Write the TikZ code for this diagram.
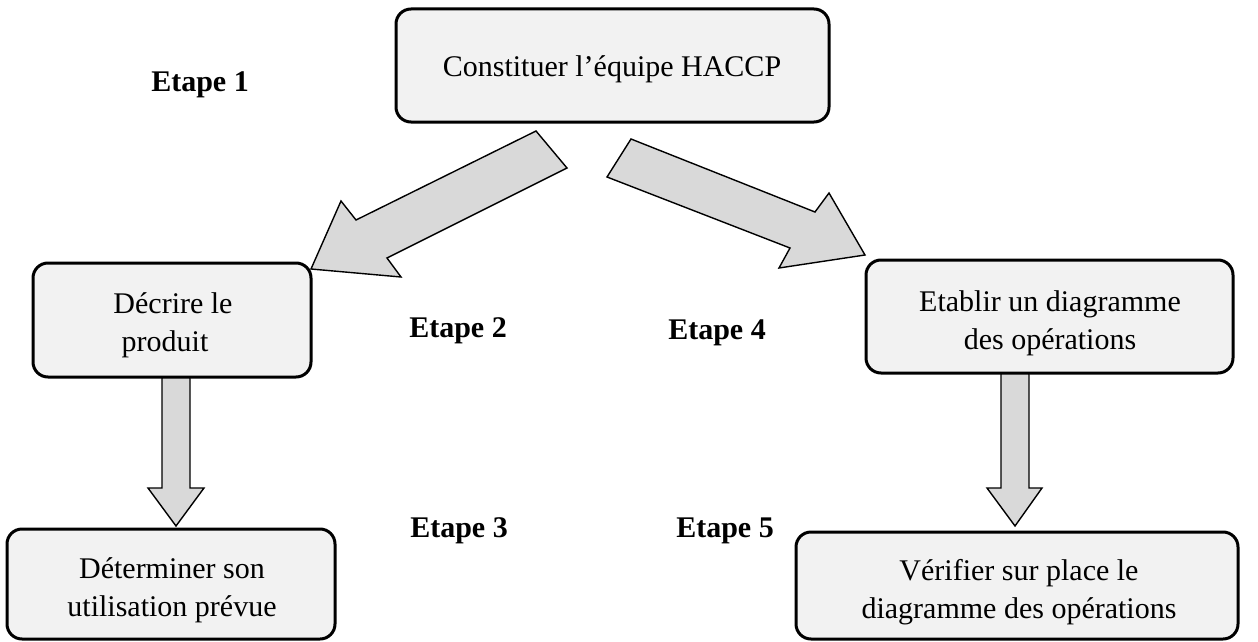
\documentclass[tikz,border=0pt]{standalone}
\usepackage{fontspec}
\setmainfont{Liberation Serif}
% fixed line height/depth so that text blocks can be placed by their first baseline
\newcommand{\hiStrut}{\rule{0pt}{22pt}}
\begin{document}
\begin{tikzpicture}[x=1pt,y=-1pt,
  stepbox/.style={draw=black, line width=3pt, rounded corners=15pt, fill=boxgray,
    inner sep=0pt},
  boxtext/.style={anchor=north, align=center, inner sep=0pt,
    font=\fontsize{30}{38.5}\selectfont},
  blockarrow/.style={draw=black, line width=1.4pt, fill=arrowgray, line join=miter},
  steplabel/.style={anchor=base, inner sep=0pt,
    font=\fontsize{30}{36}\selectfont\bfseries}]
\definecolor{boxgray}{HTML}{F2F2F2}
\definecolor{arrowgray}{HTML}{D9D9D9}
\useasboundingbox (0,0) rectangle (1258,642);

% step boxes
\node[stepbox, minimum width=433pt, minimum height=113pt] (equipe) at (612.5,65.5) {};
\node[stepbox, minimum width=278pt, minimum height=114pt] (produit) at (172,320) {};
\node[stepbox, minimum width=367pt, minimum height=113pt] (diagramme) at (1049.5,316.5) {};
\node[stepbox, minimum width=328pt, minimum height=110pt] (usage) at (171,584) {};
\node[stepbox, minimum width=442pt, minimum height=107pt] (verif) at (1017,585.5) {};

% box texts (placed 22pt above the first baseline)
\node[boxtext] (equipe-txt) at (612,54) {\hiStrut Constituer l’équipe HACCP};
\node[boxtext] (produit-txt) at (173,291) {\hiStrut Décrire le\\produit\hspace*{16pt}};
\node[boxtext] (diagramme-txt) at (1050,289) {\hiStrut Etablir un diagramme\\des opérations};
\node[boxtext] (usage-txt) at (172,556) {\hiStrut Déterminer son\\utilisation prévue};
\node[boxtext] (verif-txt) at (1019,558) {\hiStrut Vérifier sur place le\\diagramme des opérations};

% step labels (baseline positions)
\node[steplabel] (e1) at (200,92) {Etape 1};
\node[steplabel] (e2) at (458,337) {Etape 2};
\node[steplabel] (e3) at (459,537) {Etape 3};
\node[steplabel] (e4) at (717,339) {Etape 4};
\node[steplabel] (e5) at (725,537) {Etape 5};

% block arrows
\draw[blockarrow] (536,131) -- (567,168) -- (387,258) -- (401,277) -- (311,269)
  -- (341,201) -- (356,220) -- cycle;
\draw[blockarrow] (631,139) -- (607,177) -- (790,248) -- (779,268) -- (865,255)
  -- (829,193) -- (815,212) -- cycle;
\draw[blockarrow] (162,378) -- (190,378) -- (190,488) -- (204,488) -- (176,526)
  -- (148,488) -- (162,488) -- cycle;
\draw[blockarrow] (1001,374) -- (1029,374) -- (1029,488) -- (1042,488) -- (1015,526)
  -- (987,488) -- (1001,488) -- cycle;
\end{tikzpicture}
\end{document}
